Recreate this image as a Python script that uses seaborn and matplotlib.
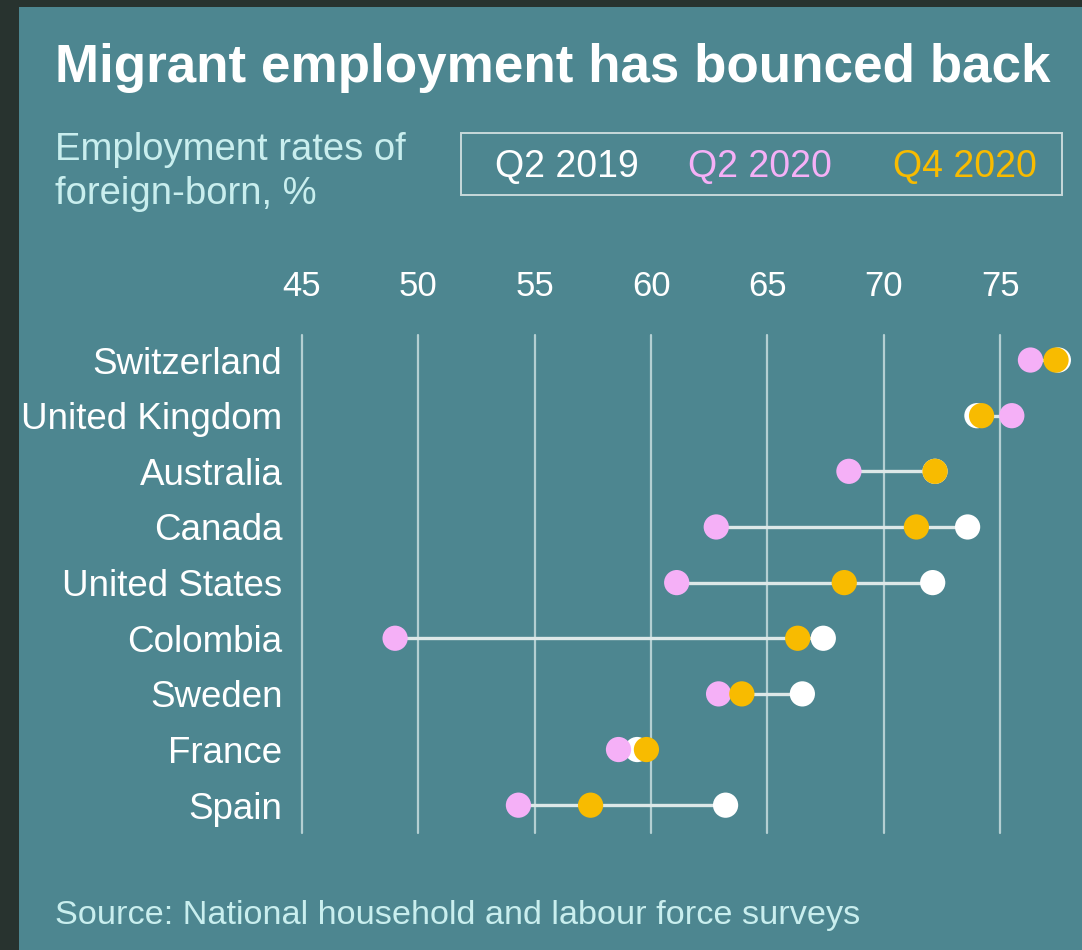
import numpy as np
import pandas as pd
import seaborn as sns
import matplotlib.pyplot as plt
from matplotlib.patches import Rectangle

# Employment rates of foreign-born, %
countries = ['Switzerland', 'United Kingdom', 'Australia', 'Canada', 'United States',
             'Colombia', 'Sweden', 'France', 'Spain']
q2_2019 = [77.5, 74.0, 72.2, 73.6, 72.1, 67.4, 66.5, 59.4, 63.2]
q2_2020 = [76.3, 75.5, 68.5, 62.8, 61.1, 49.0, 62.9, 58.6, 54.3]
q4_2020 = [77.4, 74.2, 72.2, 71.4, 68.3, 66.3, 63.9, 59.8, 57.4]
periods = ['Q2 2019', 'Q2 2020', 'Q4 2020']
x_ticks = [45, 50, 55, 60, 65, 70, 75]

bg = '#4d8690'
dark = '#28332f'
colors = {'Q2 2019': '#ffffff', 'Q2 2020': '#f5b0f7', 'Q4 2020': '#f8bb00'}
subtle = '#c9eeee'

# long format, white first so pink and orange sit on top
df = pd.DataFrame({
    'country': countries * 3,
    'rate': q2_2019 + q2_2020 + q4_2020,
    'period': np.repeat(periods, len(countries)),
})

sns.set_style('white')
plt.rcParams['font.family'] = ['Liberation Sans', 'DejaVu Sans']

W, H = 1082, 950
fig = plt.figure(figsize=(W / 100, H / 100), dpi=100, facecolor=dark)
fig.patches.append(Rectangle((19 / W, 0), 1 - 19 / W, 1 - 7 / H, transform=fig.transFigure,
                             facecolor=bg, edgecolor='none', zorder=-5))

ax = fig.add_axes([302 / W, 1 - 833 / H, 768 / W, 498 / H])
ax.set_facecolor('none')

sns.scatterplot(data=df, x='rate', y='country', hue='period', palette=colors,
                s=330, linewidth=0, legend=False, ax=ax, zorder=3, clip_on=False)

# connector from lowest to highest value
vals = np.array([q2_2019, q2_2020, q4_2020])
ax.hlines(np.arange(len(countries)), vals.min(axis=0), vals.max(axis=0),
          color='#dde8e8', linewidth=2.4, zorder=2)

ax.set_xlim(45, 78)
ax.set_ylim(len(countries) - 0.5, -0.45)
ax.set_xticks(x_ticks)
ax.xaxis.tick_top()
ax.grid(axis='x', color='#b4cfd2', linewidth=1.6, clip_on=False)
ax.grid(axis='y', visible=False)
ax.set_axisbelow(True)
for s in ax.spines.values():
    s.set_visible(False)
ax.tick_params(axis='x', length=0, pad=23, labelsize=25, labelcolor='white')
ax.tick_params(axis='y', length=0, pad=14, labelsize=26.5, labelcolor='white')
ax.set_xlabel('')
ax.set_ylabel('')

# titles
fig.text(55 / W, 1 - 82 / H, 'Migrant employment has bounced back', color='white',
         fontsize=38.2, fontweight='bold', va='baseline', ha='left')
fig.text(55 / W, 1 - 160 / H, 'Employment rates of', color=subtle,
         fontsize=27.5, va='baseline', ha='left')
fig.text(55 / W, 1 - 204 / H, 'foreign-born, %', color=subtle,
         fontsize=27.5, va='baseline', ha='left')

# legend box
fig.patches.append(Rectangle((461 / W, 1 - 195 / H), 601 / W, 62 / H, transform=fig.transFigure,
                             facecolor='none', edgecolor='#c8d9db', linewidth=1.4, zorder=1))
for label, xpos in zip(periods, [495, 688, 893]):
    fig.text(xpos / W, 1 - 177 / H, label, color=colors[label], fontsize=27,
             va='baseline', ha='left')

fig.text(55 / W, 1 - 924 / H, 'Source: National household and labour force surveys',
         color=subtle, fontsize=24.7, va='baseline', ha='left')

fig.savefig('out.png', dpi=100, facecolor=fig.get_facecolor())
